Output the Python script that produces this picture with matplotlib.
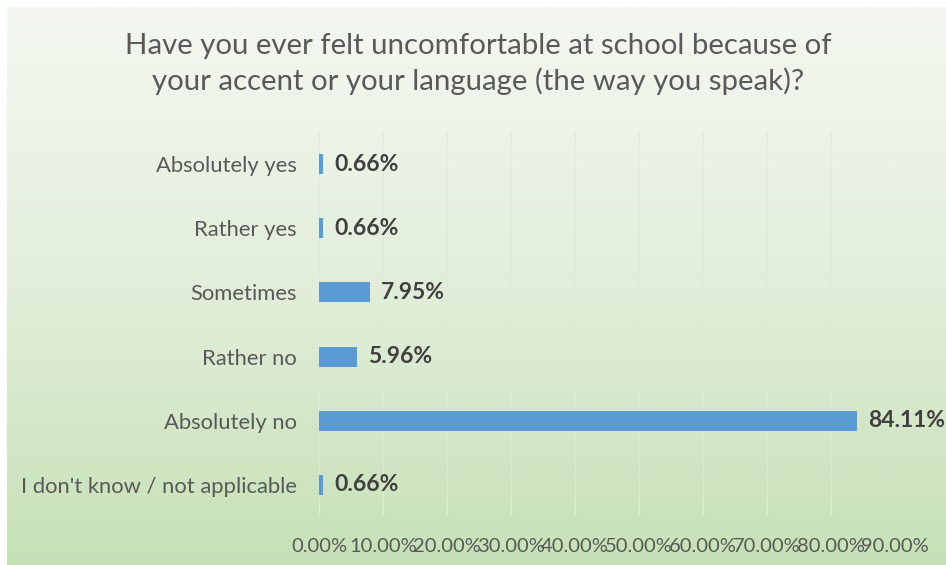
import numpy as np
import matplotlib
matplotlib.use("Agg")
import matplotlib.pyplot as plt
from matplotlib.colors import LinearSegmentedColormap

plt.rcParams['font.family'] = ['Lato', 'DejaVu Sans']

# === Datos ===
categories = ["Absolutely yes", "Rather yes", "Sometimes", "Rather no",
              "Absolutely no", "I don't know / not applicable"]
values = [0.66, 0.66, 7.95, 5.96, 84.11, 0.66]
value_labels = ["0.66%", "0.66%", "7.95%", "5.96%", "84.11%", "0.66%"]
x_ticks = [0, 10, 20, 30, 40, 50, 60, 70, 80, 90]
x_tick_labels = ["0.00%", "10.00%", "20.00%", "30.00%", "40.00%",
                 "50.00%", "60.00%", "70.00%", "80.00%", "90.00%"]
title = ("Have you ever felt uncomfortable at school because of\n"
         "your accent or your language (the way you speak)?")

W, H, DPI = 946, 565, 100
fig = plt.figure(figsize=(W / DPI, H / DPI), dpi=DPI)
fig.patch.set_facecolor("white")

# Fondo degradado (blanco verdoso arriba -> verde claro abajo)
bg = fig.add_axes([7 / W, 0, 1 - 7 / W, 1 - 7 / H], zorder=0)
cmap = LinearSegmentedColormap.from_list("bg", ["#f4f8f1", "#e2eeda", "#c6e1b6"])
grad = np.linspace(0, 1, 256).reshape(-1, 1)
bg.imshow(grad, aspect="auto", cmap=cmap, extent=[0, 1, 0, 1], origin="upper")
bg.set_axis_off()

# Área del gráfico
left, right = 319 / W, 895 / W
bottom, top = 1 - 517 / H, 1 - 132 / H
ax = fig.add_axes([left, bottom, right - left, top - bottom], zorder=1)
ax.patch.set_alpha(0)

y_pos = np.arange(len(categories))
ax.barh(y_pos, values, height=0.31, color="#5b9bd5", zorder=3)
ax.set_ylim(len(categories) - 0.5, -0.5)
ax.set_xlim(0, 90)

for y, v, lab in zip(y_pos, values, value_labels):
    ax.annotate(lab, xy=(v, y), xytext=(8, 0), textcoords="offset points",
                va="center", ha="left", fontsize=16.5, fontweight="bold",
                color="#404040", annotation_clip=False, zorder=4)

ax.set_xticks(x_ticks)
ax.set_xticklabels(x_tick_labels, fontsize=14.5, color="#595959")
ax.set_yticks(y_pos)
ax.set_yticklabels(categories, fontsize=15.8, color="#595959")
ax.tick_params(axis="both", length=0)
ax.tick_params(axis="x", pad=15)
ax.tick_params(axis="y", pad=16)
ax.grid(True, axis="x", color="#e4e4e4", linewidth=0.9, zorder=0)
ax.grid(False, axis="y")
for s in ax.spines.values():
    s.set_visible(False)

fig.text(478 / W, 1 - 64 / H, title, ha="center", va="center",
         fontsize=21.2, color="#595959", linespacing=1.33)

plt.savefig("out.png", dpi=DPI)
